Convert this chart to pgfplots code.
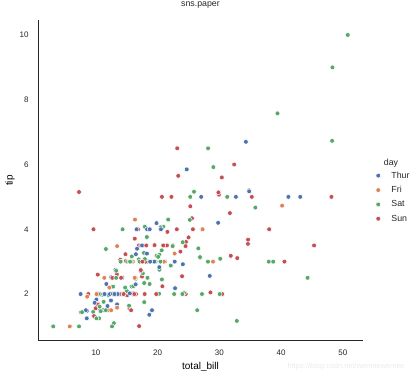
\documentclass[border=0pt]{standalone}
\usepackage{fontspec}
\setmainfont{Liberation Sans}
\usepackage{pgfplots}
\usepackage{pgfplotstable}
\pgfplotsset{compat=1.18}
\definecolor{cThur}{HTML}{4C72B0}
\definecolor{cFri}{HTML}{DD8452}
\definecolor{cSat}{HTML}{55A868}
\definecolor{cSun}{HTML}{C44E52}
\definecolor{txt}{HTML}{262626}
\pgfplotstableread{
x y d
16.99 1.01 Sun
10.34 1.66 Sun
21.01 3.50 Sun
23.68 3.31 Sun
24.59 3.61 Sun
25.29 4.71 Sun
8.77 2.00 Sun
26.88 3.12 Sun
15.04 1.96 Sun
14.78 3.23 Sun
10.27 1.71 Sun
35.26 5.00 Sun
15.42 1.57 Sun
18.43 3.00 Sun
14.83 3.02 Sun
21.58 3.92 Sun
10.33 1.67 Sun
16.29 3.71 Sun
16.97 3.50 Sun
20.65 3.35 Sat
17.92 4.08 Sat
20.29 2.75 Sat
15.77 2.23 Sat
39.42 7.58 Sat
19.82 3.18 Sat
17.81 2.34 Sat
13.37 2.00 Sat
12.69 2.00 Sat
21.70 4.30 Sat
19.65 3.00 Sat
9.55 1.45 Sat
18.35 2.50 Sat
15.06 3.00 Sat
20.69 2.45 Sat
17.78 3.27 Sat
24.06 3.60 Sat
16.31 2.00 Sat
16.93 3.07 Sat
18.69 2.31 Sat
31.27 5.00 Sat
16.04 2.24 Sat
17.46 2.54 Sun
13.94 3.06 Sun
9.68 1.32 Sun
30.40 5.60 Sun
18.29 3.00 Sun
22.23 5.00 Sun
32.40 6.00 Sun
28.55 2.05 Sun
18.04 3.00 Sun
12.54 2.50 Sun
10.29 2.60 Sun
34.81 5.20 Sun
9.94 1.56 Sun
25.56 4.34 Sun
19.49 3.51 Sun
38.01 3.00 Sat
26.41 1.50 Sat
11.24 1.76 Sat
48.27 6.73 Sat
20.29 3.21 Sat
13.81 2.00 Sat
11.02 1.98 Sat
18.29 3.76 Sat
17.59 2.64 Sat
20.08 3.15 Sat
16.45 2.47 Sat
3.07 1.00 Sat
20.23 2.01 Sat
15.01 2.09 Sat
12.02 1.97 Sat
17.07 3.00 Sat
26.86 3.14 Sat
25.28 5.00 Sat
14.73 2.20 Sat
10.51 1.25 Sat
17.92 3.08 Sat
27.20 4.00 Thur
22.76 3.00 Thur
17.29 2.71 Thur
19.44 3.00 Thur
16.66 3.40 Thur
10.07 1.83 Thur
32.68 5.00 Thur
15.98 2.03 Thur
34.83 5.17 Thur
13.03 2.00 Thur
18.28 4.00 Thur
24.71 5.85 Thur
21.16 3.00 Thur
28.97 3.00 Fri
22.49 3.50 Fri
5.75 1.00 Fri
16.32 4.30 Fri
22.75 3.25 Fri
40.17 4.73 Fri
27.28 4.00 Fri
12.03 1.50 Fri
21.01 3.00 Fri
12.46 1.50 Fri
11.35 2.50 Fri
15.38 3.00 Fri
44.30 2.50 Sat
22.42 3.48 Sat
20.92 4.08 Sat
15.36 1.64 Sat
20.49 4.06 Sat
25.21 4.29 Sat
18.24 3.76 Sat
14.31 4.00 Sat
14.00 3.00 Sat
7.25 1.00 Sat
38.07 4.00 Sun
23.95 2.55 Sun
25.71 4.00 Sun
17.31 3.50 Sun
29.93 5.07 Sun
10.65 1.50 Thur
12.43 1.80 Thur
24.08 2.92 Thur
11.69 2.31 Thur
13.42 1.68 Thur
14.26 2.50 Thur
15.95 2.00 Thur
12.48 2.52 Thur
29.80 4.20 Thur
8.52 1.48 Thur
14.52 2.00 Thur
11.38 2.00 Thur
22.82 2.18 Thur
19.08 1.50 Thur
20.27 2.83 Thur
11.17 1.50 Thur
12.26 2.00 Thur
18.26 3.25 Thur
8.51 1.25 Thur
10.33 2.00 Thur
14.15 2.00 Thur
16.00 2.00 Thur
13.16 2.75 Thur
17.47 3.50 Thur
34.30 6.70 Thur
41.19 5.00 Thur
27.05 5.00 Thur
16.43 2.30 Thur
8.35 1.50 Thur
18.64 1.36 Thur
11.87 1.63 Thur
9.78 1.73 Thur
7.51 2.00 Thur
14.07 2.50 Sun
13.13 2.00 Sun
17.26 2.74 Sun
24.55 2.00 Sun
19.77 2.00 Sun
29.85 5.14 Sun
48.17 5.00 Sun
25.00 3.75 Sun
13.39 2.61 Sun
16.49 2.00 Sun
21.50 3.50 Sun
12.66 2.50 Sun
16.21 2.00 Sun
13.81 2.00 Sun
17.51 3.00 Sun
24.52 3.48 Sun
20.76 2.24 Sun
31.71 4.50 Sun
10.59 1.61 Sat
10.63 2.00 Sat
50.81 10.00 Sat
15.81 3.16 Sat
7.25 5.15 Sun
31.85 3.18 Sun
16.82 4.00 Sun
32.90 3.11 Sun
17.89 2.00 Sun
14.48 2.00 Sun
9.60 4.00 Sun
34.63 3.55 Sun
34.65 3.68 Sun
23.33 5.65 Sun
45.35 3.50 Sun
23.17 6.50 Sun
40.55 3.00 Sun
20.69 5.00 Sun
20.90 3.50 Sun
30.46 2.00 Sun
18.15 3.50 Sun
23.10 4.00 Sun
15.69 1.50 Sun
19.81 4.19 Thur
28.44 2.56 Thur
15.48 2.02 Thur
16.58 4.00 Thur
7.56 1.44 Thur
10.34 2.00 Thur
43.11 5.00 Thur
13.00 2.00 Thur
13.51 2.00 Thur
18.71 4.00 Thur
12.74 2.01 Thur
13.00 2.00 Thur
16.40 2.50 Thur
20.53 4.00 Thur
16.47 3.23 Thur
26.59 3.41 Sat
38.73 3.00 Sat
24.27 2.03 Sat
12.76 2.23 Sat
30.06 2.00 Sat
25.89 5.16 Sat
48.33 9.00 Sat
13.27 2.50 Sat
28.17 6.50 Sat
12.90 1.10 Sat
28.15 3.00 Sat
11.59 1.50 Sat
7.74 1.44 Sat
30.14 3.09 Sat
12.16 2.20 Fri
13.42 3.48 Fri
8.58 1.92 Fri
15.98 3.00 Fri
13.42 1.58 Fri
16.27 2.50 Fri
10.09 2.00 Fri
20.45 3.00 Sat
13.28 2.72 Sat
22.12 2.88 Sat
24.01 2.00 Sat
15.69 3.00 Sat
11.61 3.39 Sat
10.77 1.47 Sat
15.53 3.00 Sat
10.07 1.25 Sat
12.60 1.00 Sat
32.83 1.17 Sat
35.83 4.67 Sat
29.03 5.92 Sat
27.18 2.00 Sat
22.67 2.00 Sat
17.82 1.75 Sat
18.78 3.00 Thur
}\tips
\begin{document}
\begin{tikzpicture}
\useasboundingbox (0,0) rectangle (418pt,379pt);
\begin{axis}[
  at={(38.5pt,38pt)}, anchor=south west,
  width=324pt, height=320.6pt, scale only axis,
  xmin=0.683, xmax=53.2, ymin=0.55, ymax=10.45,
  axis lines*=left,
  axis line style={txt, line width=1pt},
  xtick={10,20,30,40,50}, ytick={2,4,6,8,10},
  major tick length=0pt,
  tick style={draw=none},
  /pgf/number format/assume math mode=true,
  ticklabel style={font=\fontsize{8}{9.6}\selectfont, text=txt},
  xticklabel style={yshift=-5.5pt},
  yticklabel style={xshift=-6.5pt},
  label style={font=\fontsize{8.8}{10.5}\selectfont, text=txt},
  xlabel={total\_bill}, ylabel={tip},
  every axis x label/.style={at={(axis description cs:0.5,-0.081)}, anchor=center},
  every axis y label/.style={at={(axis description cs:-0.088,0.5)}, anchor=center, rotate=90},
  title={sns.paper},
  title style={font=\fontsize{8.8}{10.5}\selectfont, text=txt, at={(axis description cs:0.5,1.029)}, anchor=center},
  clip=false,
  legend style={at={(axis description cs:1.035,0.535)}, anchor=north west, draw=none, fill=none,
    font=\fontsize{8.8}{10.5}\selectfont, text=txt, row sep=2.6pt, inner sep=0pt},
  legend cell align=left,
  legend image code/.code={\path (0pt,0pt) (15pt,0pt); \draw[#1] plot coordinates {(4pt,0pt)};},
]
\addlegendimage{only marks, mark=*, mark size=2.4pt, mark options={fill=cThur, draw=white, line width=0.5pt}}
\addlegendentry{Thur}
\addlegendimage{only marks, mark=*, mark size=2.4pt, mark options={fill=cFri, draw=white, line width=0.5pt}}
\addlegendentry{Fri}
\addlegendimage{only marks, mark=*, mark size=2.4pt, mark options={fill=cSat, draw=white, line width=0.5pt}}
\addlegendentry{Sat}
\addlegendimage{only marks, mark=*, mark size=2.4pt, mark options={fill=cSun, draw=white, line width=0.5pt}}
\addlegendentry{Sun}
\addplot[scatter, only marks, mark=*, mark size=2.4pt,
  scatter src=explicit symbolic,
  scatter/classes={
    Thur={mark=*, fill=cThur, draw=white, line width=0.5pt},
    Fri={mark=*, fill=cFri, draw=white, line width=0.5pt},
    Sat={mark=*, fill=cSat, draw=white, line width=0.5pt},
    Sun={mark=*, fill=cSun, draw=white, line width=0.5pt}},
  forget plot]
  table[x=x, y=y, meta=d] {\tips};
\node[font=\fontsize{8.8}{10.5}\selectfont, text=txt, anchor=center] at (axis description cs:1.088,0.556) {day};
\node[font=\fontsize{7.5}{9}\selectfont, text=black!8, anchor=east] at (axis description cs:1.14,-0.081) {https://blog.csdn.net/wenniewennie};
\end{axis}
\end{tikzpicture}
\end{document}
